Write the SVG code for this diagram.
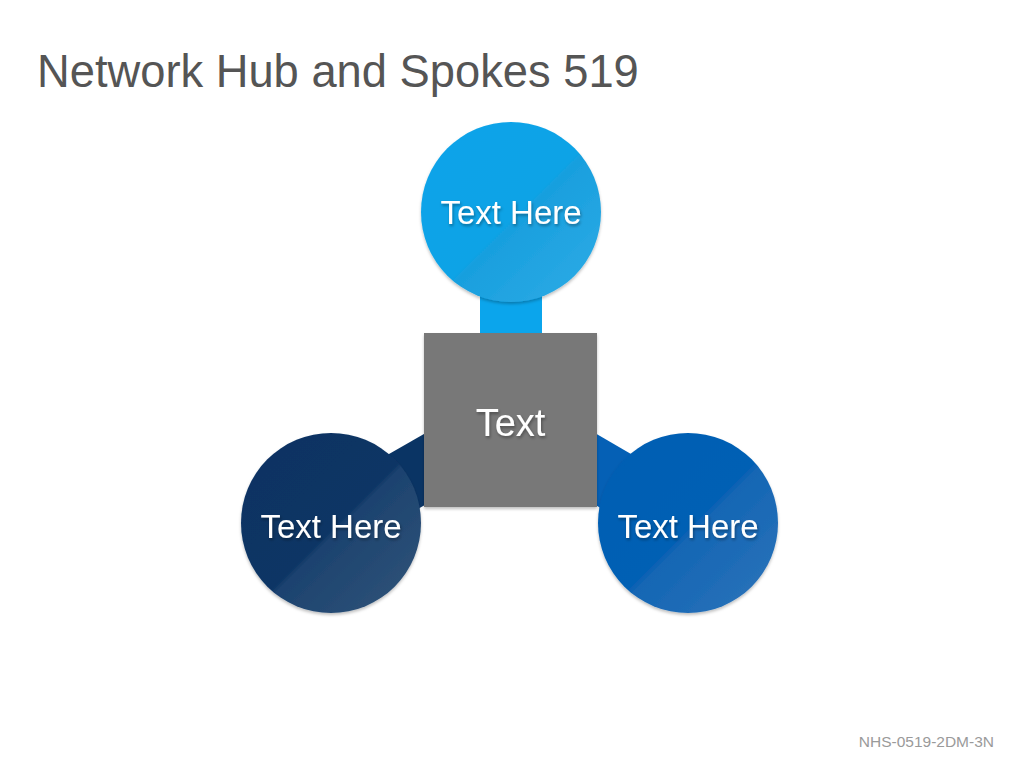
<svg xmlns="http://www.w3.org/2000/svg" width="1024" height="768" viewBox="0 0 1024 768">
<style>
.lbl{font-family:"Liberation Sans",Arial,sans-serif;fill:#ffffff;text-anchor:middle;filter:url(#ts)}
.title{font-family:"Liberation Sans",Arial,sans-serif;fill:#555555;font-size:45.3px}
.foot{font-family:"Liberation Sans",Arial,sans-serif;fill:#9a9a9a;font-size:15.5px;text-anchor:end}
</style>
<defs>
<filter id="ts" x="-20%" y="-30%" width="140%" height="170%">
<feDropShadow dx="1" dy="2" stdDeviation="1.5" flood-color="#000" flood-opacity="0.35"/>
</filter>
<filter id="ns" x="-10%" y="-10%" width="120%" height="125%">
<feDropShadow dx="0" dy="2" stdDeviation="1.5" flood-color="#000" flood-opacity="0.25"/>
</filter>
<linearGradient id="gTop" x1="0" y1="0" x2="1" y2="1">
<stop offset="0" stop-color="#09A3EA"/>
<stop offset="0.52" stop-color="#0BA3E6"/>
<stop offset="0.54" stop-color="#189FDE"/>
<stop offset="1" stop-color="#30ACE6"/>
</linearGradient>
<linearGradient id="gLeft" x1="0" y1="0" x2="1" y2="1">
<stop offset="0" stop-color="#0A3262"/>
<stop offset="0.52" stop-color="#0B3565"/>
<stop offset="0.54" stop-color="#1C426F"/>
<stop offset="1" stop-color="#325679"/>
</linearGradient>
<linearGradient id="gRight" x1="0" y1="0" x2="1" y2="1">
<stop offset="0" stop-color="#045DB3"/>
<stop offset="0.52" stop-color="#0660B4"/>
<stop offset="0.54" stop-color="#1466B4"/>
<stop offset="1" stop-color="#2E74BA"/>
</linearGradient>
</defs>
<rect width="1024" height="768" fill="#ffffff"/>
<text class="title" x="37" y="87">Network Hub and Spokes 519</text>
<g id="connectors">
<line x1="511" y1="420" x2="511" y2="212" stroke="#0BA5EC" stroke-width="62"/>
<line x1="511" y1="420" x2="331" y2="523" stroke="#0A3464" stroke-width="62"/>
<line x1="511" y1="420" x2="688" y2="523" stroke="#0560B5" stroke-width="62"/>
</g>
<g id="node-top">
<circle cx="511" cy="212" r="90" fill="url(#gTop)" filter="url(#ns)"/>
<text class="lbl" x="511" y="224" font-size="33">Text Here</text>
</g>
<g id="node-left">
<circle cx="331" cy="523" r="90" fill="url(#gLeft)" filter="url(#ns)"/>
<text class="lbl" x="331" y="538" font-size="33">Text Here</text>
</g>
<g id="node-right">
<circle cx="688" cy="523" r="90" fill="url(#gRight)" filter="url(#ns)"/>
<text class="lbl" x="688" y="538" font-size="33">Text Here</text>
</g>
<g id="hub">
<rect x="424" y="333" width="173" height="174" fill="#787878" filter="url(#ns)"/>
<text class="lbl" x="510.5" y="436" font-size="38">Text</text>
</g>
<text class="foot" x="994" y="747">NHS-0519-2DM-3N</text>
</svg>
